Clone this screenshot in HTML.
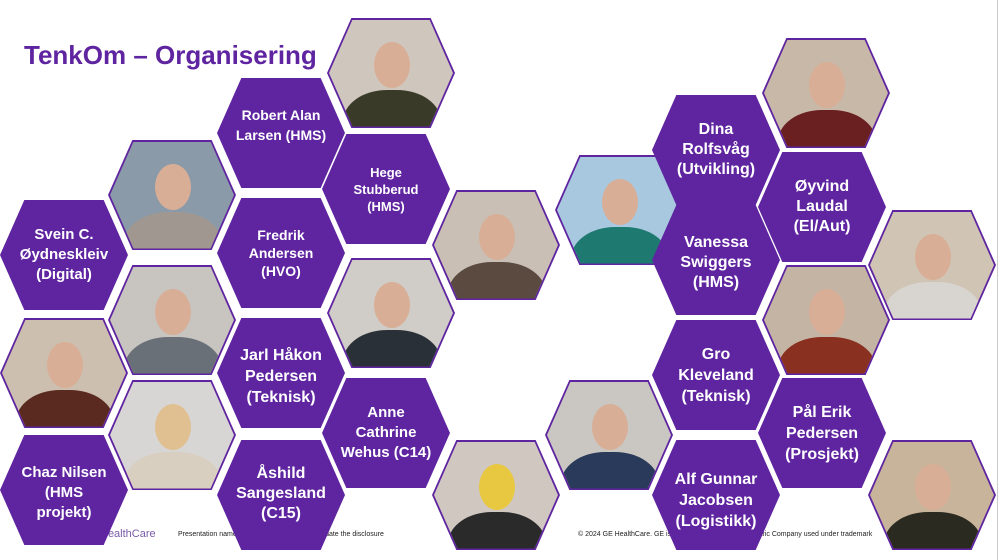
<!DOCTYPE html>
<html><head><meta charset="utf-8"><style>
body{margin:0;width:1001px;height:560px;overflow:hidden;background:#fff;position:relative;font-family:"Liberation Sans",sans-serif}
.h{position:absolute;width:128px;height:110px;clip-path:polygon(0 50%,19% 0,81% 0,100% 50%,81% 100%,19% 100%)}
.t{background:#5f24a0;color:#fff;font-weight:bold;font-size:15px;line-height:20px;text-align:center;display:flex;align-items:center;justify-content:center}
.p{background:#5f24a0}
.p .in{position:absolute;left:2px;top:1.5px;width:124px;height:107px;clip-path:polygon(0 50%,19% 0,81% 0,100% 50%,81% 100%,19% 100%);overflow:hidden}
.hd{position:absolute;left:45px;top:22px;width:36px;height:46px;border-radius:50%;background:#d9ae96}
.bd{position:absolute;left:14px;top:70px;width:98px;height:70px;border-radius:45% 45% 0 0}
.ft{position:absolute;font-size:7px;color:#222;top:531px;white-space:nowrap}
</style></head><body>
<div style="position:absolute;left:24px;top:40px;font-size:26px;font-weight:bold;color:#5f24a0">TenkOm – Organisering</div>
<div style="position:absolute;left:997px;top:0;width:1px;height:560px;background:#ccc"></div>
<div style="position:absolute;left:100px;top:528px;font-size:11px;color:#7a5aa8">HealthCare</div>
<div class="ft" style="left:178px">Presentation name · Insert Header/Footer to update the disclosure</div>
<div class="ft" style="left:578px">© 2024 GE HealthCare. GE is a trademark of General Electric Company used under trademark</div>

<div class="h p" style="left:327px;top:18px"><div class="in" style="background:#cfc6bd"><div class="hd"></div><div class="bd" style="background:#3a3a28"></div></div></div>
<div class="h p" style="left:108px;top:140px"><div class="in" style="background:#8a9aa8"><div class="hd"></div><div class="bd" style="background:#a09890"></div></div></div>
<div class="h p" style="left:432px;top:190px"><div class="in" style="background:#c9bfb5"><div class="hd"></div><div class="bd" style="background:#5a4a40"></div></div></div>
<div class="h p" style="left:108px;top:265px"><div class="in" style="background:#c8c4c0"><div class="hd"></div><div class="bd" style="background:#6a7078"></div></div></div>
<div class="h p" style="left:327px;top:258px"><div class="in" style="background:#d0ccc8"><div class="hd"></div><div class="bd" style="background:#2a3038"></div></div></div>
<div class="h p" style="left:0px;top:318px"><div class="in" style="background:#cdbfb0"><div class="hd"></div><div class="bd" style="background:#5a2a20"></div></div></div>
<div class="h p" style="left:108px;top:380px"><div class="in" style="background:#d8d6d4"><div class="hd" style="background:#e0c090"></div><div class="bd" style="background:#d8cfc0"></div></div></div>
<div class="h p" style="left:432px;top:440px"><div class="in" style="background:#d0c8c0"><div class="hd" style="background:#e8c840"></div><div class="bd" style="background:#2a2a2a"></div></div></div>
<div class="h p" style="left:555px;top:155px"><div class="in" style="background:#a8c8e0"><div class="hd"></div><div class="bd" style="background:#1e7a70"></div></div></div>
<div class="h p" style="left:762px;top:38px"><div class="in" style="background:#c8b8a8"><div class="hd"></div><div class="bd" style="background:#6a2020"></div></div></div>
<div class="h p" style="left:868px;top:210px"><div class="in" style="background:#d0c4b4"><div class="hd"></div><div class="bd" style="background:#d8d4d0"></div></div></div>
<div class="h p" style="left:762px;top:265px"><div class="in" style="background:#c4b4a4"><div class="hd"></div><div class="bd" style="background:#8a3020"></div></div></div>
<div class="h p" style="left:545px;top:380px"><div class="in" style="background:#cac6c2"><div class="hd"></div><div class="bd" style="background:#2a3a5a"></div></div></div>
<div class="h p" style="left:868px;top:440px"><div class="in" style="background:#c8b49a"><div class="hd"></div><div class="bd" style="background:#2a2a20"></div></div></div>

<div class="h t" style="left:217px;top:78px"><div style="margin-top:-16px;font-size:14px">Robert Alan<br>Larsen (HMS)</div></div>
<div class="h t" style="left:322px;top:134px"><div style="font-size:13px;line-height:17px">Hege<br>Stubberud<br>(HMS)</div></div>
<div class="h t" style="left:0px;top:200px"><div>Svein C.<br>Øydneskleiv<br>(Digital)</div></div>
<div class="h t" style="left:217px;top:198px"><div style="font-size:14px;line-height:18px">Fredrik<br>Andersen<br>(HVO)</div></div>
<div class="h t" style="left:217px;top:318px"><div style="margin-top:6px;font-size:16px;line-height:21px">Jarl Håkon<br>Pedersen<br>(Teknisk)</div></div>
<div class="h t" style="left:322px;top:378px"><div>Anne<br>Cathrine<br>Wehus (C14)</div></div>
<div class="h t" style="left:0px;top:435px"><div style="margin-top:6px">Chaz Nilsen<br>(HMS<br>projekt)</div></div>
<div class="h t" style="left:217px;top:440px"><div style="margin-top:-2px;font-size:16px;line-height:20px">Åshild<br>Sangesland<br>(C15)</div></div>
<div class="h t" style="left:652px;top:95px"><div style="font-size:16px">Dina<br>Rolfsvåg<br>(Utvikling)</div></div>
<div class="h t" style="left:758px;top:152px"><div style="font-size:16px">Øyvind<br>Laudal<br>(El/Aut)</div></div>
<div class="h t" style="left:652px;top:205px"><div style="font-size:16px;margin-top:6px">Vanessa<br>Swiggers<br>(HMS)</div></div>
<div class="h t" style="left:652px;top:320px"><div style="font-size:16px;line-height:21px">Gro<br>Kleveland<br>(Teknisk)</div></div>
<div class="h t" style="left:758px;top:378px"><div style="font-size:16px;line-height:21px">Pål Erik<br>Pedersen<br>(Prosjekt)</div></div>
<div class="h t" style="left:652px;top:440px"><div style="font-size:16px;line-height:21px;margin-top:10px">Alf Gunnar<br>Jacobsen<br>(Logistikk)</div></div>
</body></html>
